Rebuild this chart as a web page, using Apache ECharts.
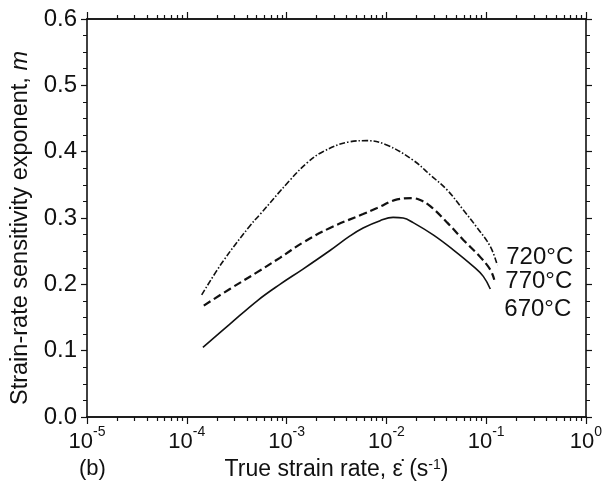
<!DOCTYPE html>
<html>
<head>
<meta charset="utf-8">
<script src="https://cdn.jsdelivr.net/npm/echarts@6/dist/echarts.min.js"></script>
<style>
  html, body { margin: 0; padding: 0; background: #fff; }
  #chart { width: 613px; height: 487px; }
</style>
</head>
<body>
<div id="chart"></div>
<script>
// strain rate (s^-1) and m
var rate720 = [1.41e-4, 2.29e-4, 4.28e-4, 5.39e-4, 1.08e-3, 1.60e-3, 2.31e-3, 4.32e-3, 6.34e-3, 0.01007, 0.01838, 0.02749, 0.04072, 0.05902, 0.0796, 0.1099, 0.1291];
var m720    = [0.184, 0.234, 0.288, 0.305, 0.357, 0.383, 0.400, 0.415, 0.4166, 0.410, 0.3875, 0.365, 0.342, 0.312, 0.287, 0.257, 0.229];

var rate770 = [1.48e-4, 2.70e-4, 5.04e-4, 8.57e-4, 1.46e-3, 2.72e-3, 5.84e-3, 8.07e-3, 0.01282, 0.01812, 0.02179, 0.02749, 0.04072, 0.05902, 0.0873, 0.1099, 0.1205];
var m770    = [0.168, 0.193, 0.218, 0.240, 0.263, 0.285, 0.306, 0.315, 0.328, 0.330, 0.327, 0.318, 0.293, 0.267, 0.241, 0.222, 0.207];

var rate670 = [1.45e-4, 2.70e-4, 5.15e-4, 8.57e-4, 1.46e-3, 2.72e-3, 4.32e-3, 5.84e-3, 8.65e-3, 0.01167, 0.01472, 0.01855, 0.02944, 0.04674, 0.07424, 0.0935, 0.1099];
var m670    = [0.105, 0.140, 0.176, 0.200, 0.223, 0.251, 0.273, 0.285, 0.296, 0.301, 0.300, 0.293, 0.2745, 0.252, 0.227, 0.212, 0.193];

var decades = [1e-5, 1e-4, 1e-3, 1e-2, 1e-1, 1];

// 2..9 x 10^k minor ticks for the log axis
var minorRates = [];
for (var k = 0; k < decades.length - 1; k++) {
  for (var j = 2; j <= 9; j++) minorRates.push(j * decades[k]);
}

var FONT = '"Liberation Sans", Arial, sans-serif';
var BLACK = '#111';

function pairs(xs, ys) {
  return xs.map(function (x, i) { return [x, ys[i]]; });
}

function logAxis(pos, ticks, len, labels) {
  return {
    type: 'log', logBase: 10, position: pos, min: 1e-5, max: 1,
    gridIndex: 0,
    axisLine: { show: labels !== null, lineStyle: { color: BLACK, width: 1.6 } },
    axisTick: { show: true, customValues: ticks, length: len, lineStyle: { color: BLACK, width: 1.2 } },
    minorTick: { show: false },
    splitLine: { show: false },
    axisLabel: labels ? {
      show: true, customValues: decades, margin: 8,
      formatter: function (v) {
        var e = Math.round(Math.log10(v));
        return '{b|10}{sup|' + e + '}';
      },
      rich: {
        b: { fontSize: 22, fontFamily: FONT, color: BLACK, lineHeight: 28, verticalAlign: 'bottom' },
        sup: { fontSize: 14, fontFamily: FONT, color: BLACK, lineHeight: 14, verticalAlign: 'top' }
      }
    } : { show: false }
  };
}

var xMain = logAxis('bottom', decades, 7, true);
xMain.name = 'True strain rate, \u03B5\u0307 (s{sup|-1})';
xMain.nameLocation = 'middle';
xMain.nameGap = 40;
xMain.nameTextStyle = {
  fontSize: 23, fontFamily: FONT, color: BLACK,
  rich: { sup: { fontSize: 14, fontFamily: FONT, color: BLACK, verticalAlign: 'top', lineHeight: 12 } }
};

var labelStyle = { fontSize: 24, fontFamily: FONT, color: BLACK };

var myChart = echarts.init(document.getElementById('chart'));
var option = {
  animation: false,
  backgroundColor: '#fff',
  grid: { left: 87, right: 27, top: 19, bottom: 70 },
  xAxis: [
    xMain,
    logAxis('bottom', minorRates, 4, false),
    logAxis('top', decades, 7, false),
    logAxis('top', minorRates, 4, false)
  ],
  yAxis: [
    {
      type: 'value', position: 'left', min: 0, max: 0.6, interval: 0.1,
      name: 'Strain-rate sensitivity exponent, {i|m}',
      nameLocation: 'middle', nameRotate: 90, nameGap: 46,
      nameTextStyle: {
        fontSize: 23.5, fontFamily: FONT, color: BLACK, padding: [0, 20, 0, 0],
        rich: { i: { fontSize: 23.5, fontFamily: FONT, fontStyle: 'italic', color: BLACK } }
      },
      axisLine: { show: true, lineStyle: { color: BLACK, width: 1.6 } },
      axisTick: { show: true, length: 6, lineStyle: { color: BLACK, width: 1.2 } },
      minorTick: { show: true, splitNumber: 4, length: 4, lineStyle: { color: BLACK, width: 1 } },
      splitLine: { show: false },
      axisLabel: {
        margin: 10, fontSize: 24, fontFamily: FONT, color: BLACK,
        formatter: function (v) { return v.toFixed(1); }
      }
    },
    {
      type: 'value', position: 'right', min: 0, max: 0.6, interval: 0.1,
      axisLine: { show: true, lineStyle: { color: BLACK, width: 1.6 } },
      axisTick: { show: true, length: 6, lineStyle: { color: BLACK, width: 1.2 } },
      minorTick: { show: true, splitNumber: 4, length: 4, lineStyle: { color: BLACK, width: 1 } },
      splitLine: { show: false },
      axisLabel: { show: false }
    }
  ],
  graphic: [
    {
      type: 'text', left: 79, top: 458,
      style: { text: '(b)', fontSize: 22, fontFamily: FONT, fill: BLACK }
    }
  ],
  series: [
    {
      name: '720°C', type: 'line', data: pairs(rate720, m720),
      smooth: 0.4, symbol: 'none',
      lineStyle: { color: BLACK, width: 1.6, type: [6, 2, 1.5, 2] },
      endLabel: Object.assign({ show: true, formatter: '720°C', offset: [1, -8] }, labelStyle)
    },
    {
      name: '770°C', type: 'line', data: pairs(rate770, m770),
      smooth: 0.4, symbol: 'none',
      lineStyle: { color: BLACK, width: 2.2, type: [8, 4] },
      endLabel: Object.assign({ show: true, formatter: '770°C', offset: [3, 2] }, labelStyle)
    },
    {
      name: '670°C', type: 'line', data: pairs(rate670, m670),
      smooth: 0.4, symbol: 'none',
      lineStyle: { color: BLACK, width: 1.6, type: 'solid' },
      endLabel: Object.assign({ show: true, formatter: '670°C', offset: [6, 20] }, labelStyle)
    }
  ]
};
myChart.setOption(option);
</script>
</body>
</html>
